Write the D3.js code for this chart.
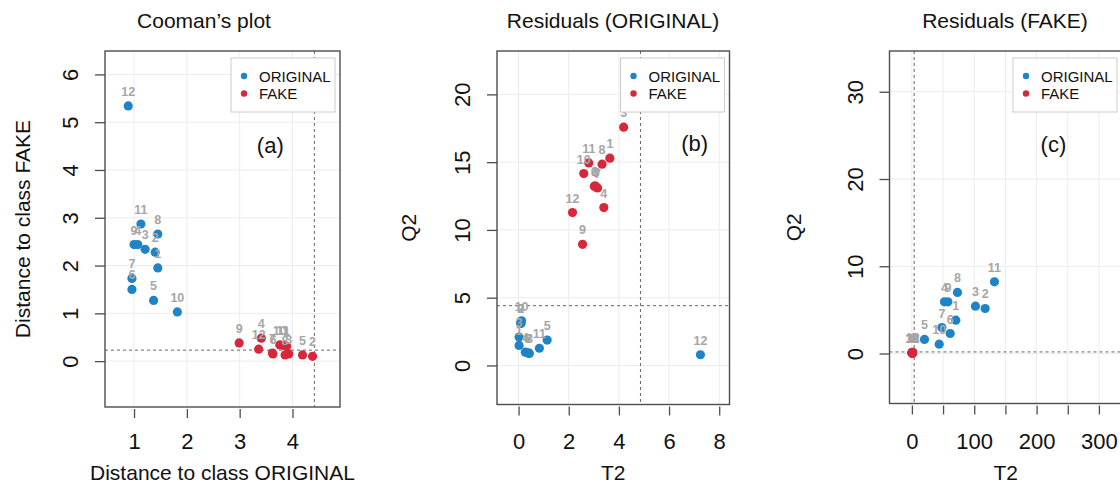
<!DOCTYPE html>
<html>
<head>
<meta charset="utf-8">
<script src="https://cdn.jsdelivr.net/npm/d3@7"></script>
<style>
  body { margin: 0; background: #fff; }
  svg text { font-family: "Liberation Sans", Arial, sans-serif; }
</style>
</head>
<body>
<div id="chart"></div>
<script>
var pointIds = ["1", "2", "3", "4", "5", "6", "7", "8", "9", "10", "11", "12"];
var classNames = ["ORIGINAL", "FAKE"];
var classColors = ["#1f84c6", "#d7283b"];

// (a) Cooman's plot: distance to class ORIGINAL (x) vs distance to class FAKE (y)
var coomanOrigX = [1.45, 1.40, 1.21, 1.07, 1.37, 0.96, 0.96, 1.45, 1.00, 1.82, 1.13, 0.89];
var coomanOrigY = [1.95, 2.28, 2.34, 2.44, 1.27, 1.50, 1.73, 2.66, 2.44, 1.03, 2.87, 5.34];
var coomanFakeX = [3.89, 4.38, 3.93, 3.41, 4.19, 3.63, 3.62, 3.86, 2.99, 3.76, 3.82, 3.36];
var coomanFakeY = [0.31, 0.10, 0.15, 0.48, 0.13, 0.15, 0.17, 0.13, 0.38, 0.34, 0.33, 0.25];
var coomanCrit = [4.415, 0.23];
var coomanXTicks = [1, 2, 3, 4];
var coomanYTicks = [0, 1, 2, 3, 4, 5, 6];

// (b) residuals for the ORIGINAL class model
var resOrigT2Orig = [0.02, 0.10, 0.02, 0.27, 1.14, 0.35, 0.40, 0.43, 0.08, 0.12, 0.83, 7.25];
var resOrigQ2Orig = [1.48, 3.10, 2.10, 0.98, 1.87, 0.93, 0.92, 0.89, 3.15, 3.30, 1.27, 0.79];
var resOrigT2Fake = [3.64, 3.05, 4.19, 3.40, 3.10, 3.02, 3.15, 3.33, 2.55, 2.60, 2.80, 2.15];
var resOrigQ2Fake = [15.29, 13.25, 17.58, 11.65, 13.15, 13.22, 13.10, 14.85, 8.94, 14.16, 14.94, 11.28];
var resOrigCrit = [4.86, 4.41];
var resOrigXTicks = [0, 2, 4, 6, 8];
var resOrigYTicks = [0, 5, 10, 15, 20];

// (c) residuals for the FAKE class model
var resFakeT2Orig = [70.5, 117.5, 101.9, 52.2, 20.2, 61.4, 48.1, 73.1, 57.7, 43.8, 132.4, 360];
var resFakeQ2Orig = [3.82, 5.16, 5.42, 5.92, 1.61, 2.29, 2.98, 7.00, 5.92, 1.07, 8.21, 31];
var resFakeT2Fake = [0.5, 1.0, 0.3, 0.8, 0.2, 0.6, 0.4, 0.9, 0.1, 0.7, 1.2, 1.5];
var resFakeQ2Fake = [0.10, 0.05, 0.08, 0.12, 0.04, 0.06, 0.09, 0.07, 0.11, 0.05, 0.10, 0.13];
var resFakeCrit = [3.7, 0.18];
var resFakeXTicks = [0, 50, 100, 150, 200, 250, 300];
var resFakeXLabels = [0, 100, 200, 300];
var resFakeYTicks = [0, 10, 20, 30];

var w = 1120;
var h = 484;

var svg = d3.select("#chart")
            .append("svg")
            .attr("width", w)
            .attr("height", h);

var panels = [
    {
        title: "Cooman\u2019s plot", titleX: 204,
        xLabel: "Distance to class ORIGINAL", yLabel: "Distance to class FAKE", yLabelX: 30,
        left: 105, right: 340, top: 51, bottom: 407,
        xDomain: [0.45, 4.9], yDomain: [-0.96, 6.49],
        xTicks: coomanXTicks, yTicks: coomanYTicks, xLabels: coomanXTicks,
        crit: coomanCrit,
        series: [[coomanOrigX, coomanOrigY], [coomanFakeX, coomanFakeY]],
        letter: "(a)", letterPos: [3.58, 4.52]
    },
    {
        title: "Residuals (ORIGINAL)", titleX: 613,
        xLabel: "T2", yLabel: "Q2", yLabelX: 416,
        left: 497, right: 729.5, top: 51, bottom: 404.5,
        xDomain: [-0.86, 8.41], yDomain: [-2.88, 23.2],
        xTicks: resOrigXTicks, yTicks: resOrigYTicks, xLabels: resOrigXTicks,
        crit: resOrigCrit,
        series: [[resOrigT2Orig, resOrigQ2Orig], [resOrigT2Fake, resOrigQ2Fake]],
        letter: "(b)", letterPos: [7.02, 16.4]
    },
    {
        title: "Residuals (FAKE)", titleX: 1005,
        xLabel: "T2", yLabel: "Q2", yLabelX: 801,
        left: 889.5, right: 1122, top: 51, bottom: 403.5,
        xDomain: [-35.9, 337], yDomain: [-5.73, 34.67],
        xTicks: resFakeXTicks, yTicks: resFakeYTicks, xLabels: resFakeXLabels,
        crit: resFakeCrit,
        series: [[resFakeT2Orig, resFakeQ2Orig], [resFakeT2Fake, resFakeQ2Fake]],
        letter: "(c)", letterPos: [227, 24.0]
    }
];

function drawPanel(p) {
    var g = svg.append("g");
    var x = d3.scaleLinear().domain(p.xDomain).range([p.left, p.right]);
    var y = d3.scaleLinear().domain(p.yDomain).range([p.bottom, p.top]);

    // light grid at the ticks
    g.selectAll(null).data(p.xTicks).enter().append("line")
        .attr("x1", function(d) { return x(d); })
        .attr("x2", function(d) { return x(d); })
        .attr("y1", p.top).attr("y2", p.bottom)
        .attr("stroke", "#ececec").attr("stroke-width", 1);
    g.selectAll(null).data(p.yTicks).enter().append("line")
        .attr("x1", p.left).attr("x2", p.right)
        .attr("y1", function(d) { return y(d); })
        .attr("y2", function(d) { return y(d); })
        .attr("stroke", "#ececec").attr("stroke-width", 1);

    // critical limits
    g.append("line")
        .attr("x1", x(p.crit[0])).attr("x2", x(p.crit[0]))
        .attr("y1", p.top).attr("y2", p.bottom)
        .attr("stroke", "#666").attr("stroke-dasharray", "3,3");
    g.append("line")
        .attr("x1", p.left).attr("x2", p.right)
        .attr("y1", y(p.crit[1])).attr("y2", y(p.crit[1]))
        .attr("stroke", "#666").attr("stroke-dasharray", "3,3");

    var allPts = [];
    p.series.forEach(function(s, k) {
        s[0].forEach(function(v, i) {
            allPts.push({x: v, y: s[1][i], id: pointIds[i], c: classColors[k]});
        });
    });

    g.selectAll(null).data(allPts).enter().append("circle")
        .attr("cx", function(d) { return x(d.x); })
        .attr("cy", function(d) { return y(d.y); })
        .attr("r", 4.6)
        .attr("fill", function(d) { return d.c; });

    g.selectAll(null).data(allPts).enter().append("text")
        .text(function(d) { return d.id; })
        .attr("x", function(d) { return x(d.x); })
        .attr("y", function(d) { return y(d.y) - 10; })
        .attr("text-anchor", "middle")
        .attr("font-size", 12.5)
        .attr("font-weight", "bold")
        .attr("fill", "#a6a6a6");

    // panel letter
    g.append("text")
        .text(p.letter)
        .attr("x", x(p.letterPos[0]))
        .attr("y", y(p.letterPos[1]))
        .attr("dy", "0.35em")
        .attr("text-anchor", "middle")
        .attr("font-size", 22)
        .attr("fill", "#111");

    // box
    g.append("rect")
        .attr("x", p.left).attr("y", p.top)
        .attr("width", p.right - p.left).attr("height", p.bottom - p.top)
        .attr("fill", "none").attr("stroke", "#4d4d4d").attr("stroke-width", 1.4);

    // axes
    var xAxis = d3.axisBottom(x).tickValues(p.xTicks).tickSize(9)
        .tickFormat(function(d) { return p.xLabels.indexOf(d) >= 0 ? d : ""; });
    var ax = g.append("g")
        .attr("transform", "translate(0," + (p.bottom + 2) + ")")
        .call(xAxis);
    ax.select(".domain").remove();
    ax.selectAll("line").attr("stroke", "#4d4d4d").attr("stroke-width", 1.3);
    ax.selectAll("text")
        .attr("y", 449 - (p.bottom + 2)).attr("dy", null)
        .attr("font-size", 22).attr("fill", "#111");

    var yAxis = d3.axisLeft(y).tickValues(p.yTicks).tickSize(10);
    var ay = g.append("g")
        .attr("transform", "translate(" + p.left + ",0)")
        .call(yAxis);
    ay.select(".domain").remove();
    ay.selectAll("line").attr("stroke", "#4d4d4d").attr("stroke-width", 1.3);
    ay.selectAll("text")
        .attr("transform", "rotate(-90)")
        .attr("x", 0).attr("y", -27).attr("dy", null)
        .attr("text-anchor", "middle")
        .attr("font-size", 22).attr("fill", "#111");

    // titles
    svg.append("text")
        .text(p.title)
        .attr("x", p.titleX).attr("y", 28)
        .attr("text-anchor", "middle")
        .attr("font-size", 21).attr("fill", "#111");
    svg.append("text")
        .text(p.xLabel)
        .attr("x", (p.left + p.right) / 2).attr("y", 480)
        .attr("text-anchor", "middle")
        .attr("font-size", 21).attr("fill", "#111");
    svg.append("text")
        .text(p.yLabel)
        .attr("transform", "translate(" + p.yLabelX + "," + ((p.top + p.bottom) / 2) + ") rotate(-90)")
        .attr("text-anchor", "middle")
        .attr("font-size", 21).attr("fill", "#111");

    // legend
    var lx = p.right - 5 - 104;
    var lg = g.append("g").attr("transform", "translate(" + lx + ",58)");
    lg.append("rect")
        .attr("width", 104).attr("height", 54)
        .attr("fill", "#fff").attr("stroke", "#ccc").attr("stroke-width", 1);
    lg.selectAll(null).data(classNames).enter().append("circle")
        .attr("cx", 13)
        .attr("cy", function(d, i) { return 18 + i * 17.5; })
        .attr("r", 3.2)
        .attr("fill", function(d, i) { return classColors[i]; });
    lg.selectAll(null).data(classNames).enter().append("text")
        .text(function(d) { return d; })
        .attr("x", 28)
        .attr("y", function(d, i) { return 18 + i * 17.5 + 5.5; })
        .attr("font-size", 15).attr("fill", "#111");
}

panels.forEach(drawPanel);
</script>
</body>
</html>
